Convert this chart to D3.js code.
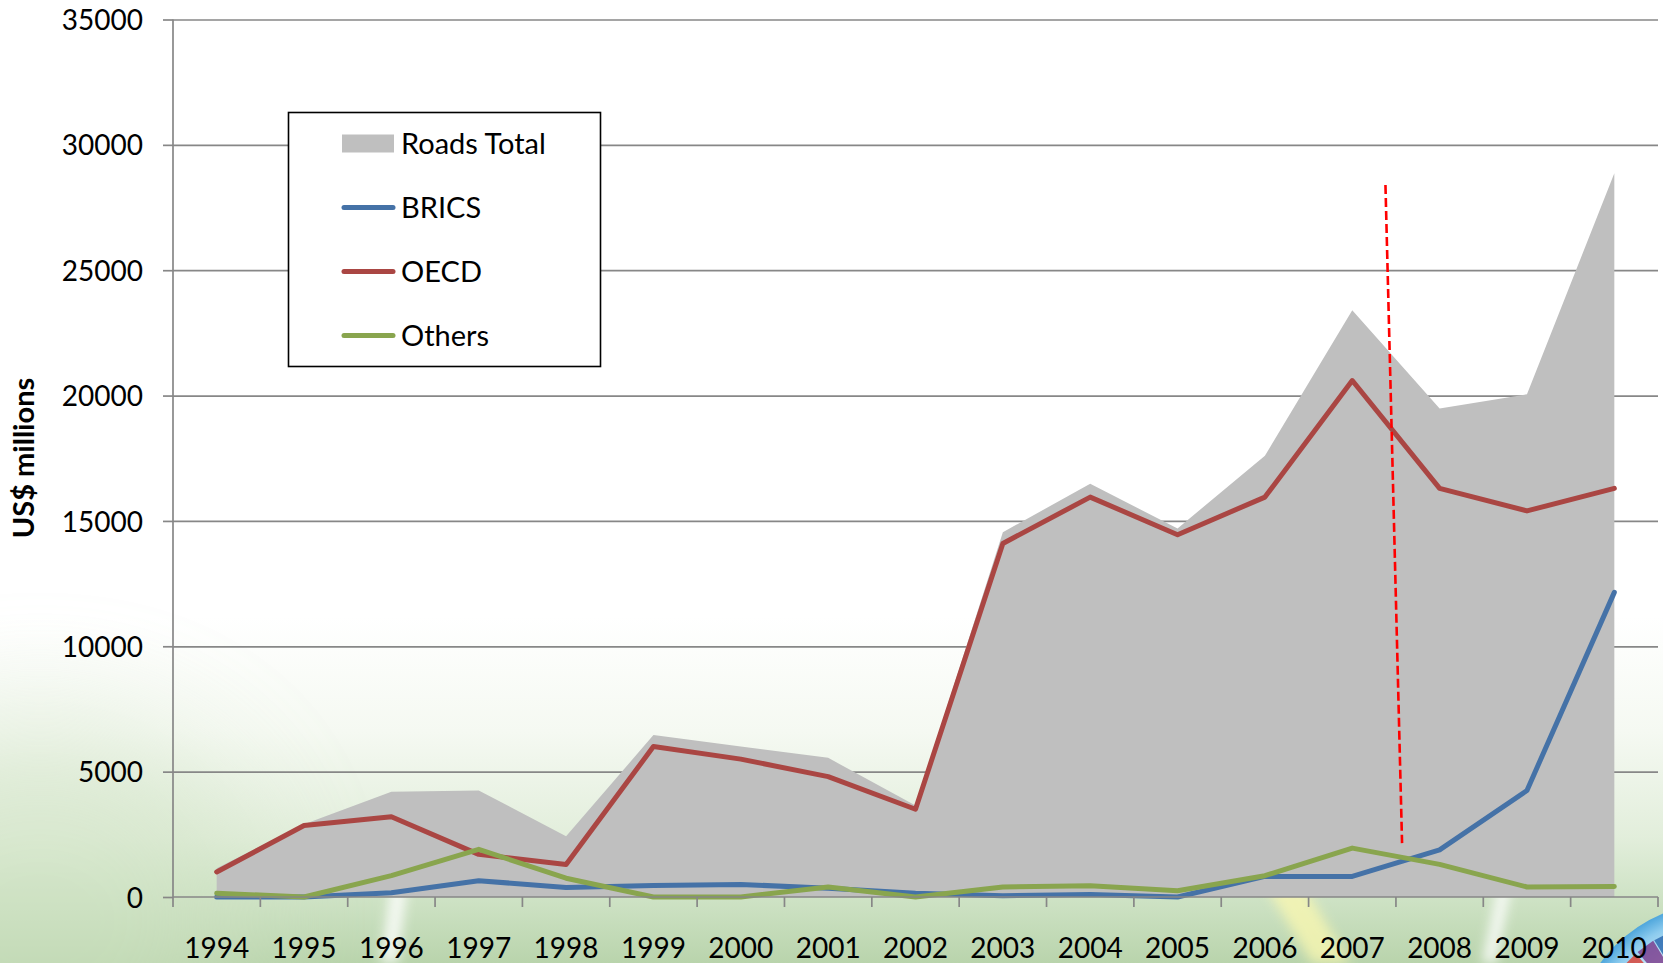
<!DOCTYPE html>
<html>
<head>
<meta charset="utf-8">
<script src="https://cdn.jsdelivr.net/npm/d3@7"></script>
<style>
  html, body { margin: 0; padding: 0; background: #ffffff; overflow: hidden; }
  svg { display: block; }
  text { font-family: Lato, "Open Sans", "Liberation Sans", sans-serif; fill: #000; }
</style>
</head>
<body>
<svg id="chart" width="1663" height="963"></svg>
<script>
// Road-sector investment commitments, US$ millions
const years = [1994, 1995, 1996, 1997, 1998, 1999, 2000, 2001, 2002,
               2003, 2004, 2005, 2006, 2007, 2008, 2009, 2010];
const roadsTotal = [1150, 2900, 4200, 4250, 2420, 6460, 6000, 5550, 3650,
                    14550, 16480, 14700, 17600, 23400, 19480, 20050, 28870];
const brics  = [0, 0, 170, 650, 380, 460, 500, 350, 150,
                50, 100, 0, 820, 820, 1880, 4250, 12150];
const oecd   = [1000, 2850, 3200, 1700, 1300, 6000, 5500, 4800, 3500,
                14100, 15950, 14450, 15950, 20600, 16300, 15400, 16300];
const others = [150, 0, 850, 1900, 750, 0, 0, 400, 0,
                400, 450, 250, 850, 1950, 1300, 400, 420];
const yTicks = [0, 5000, 10000, 15000, 20000, 25000, 30000, 35000];

// Hand-drawn marker between 2007 and 2008 (year fraction, value)
const crisisMarker = [{ year: 2007.38, value: 28400 }, { year: 2007.57, value: 2150 }];

const legendItems = [
  { label: "Roads Total", type: "area", color: "#bfbfbf" },
  { label: "BRICS",       type: "line", color: "#4572a7" },
  { label: "OECD",        type: "line", color: "#aa4643" },
  { label: "Others",      type: "line", color: "#89a54e" }
];

const W = 1663, H = 963;
const plot = { left: 173, right: 1658, top: 19.5, bottom: 897 };

const svg = d3.select("#chart");
const defs = svg.append("defs");

// ---- slide background -------------------------------------------------
const bg = defs.append("linearGradient").attr("id", "bgGrad")
  .attr("x1", 0).attr("y1", 0).attr("x2", 0).attr("y2", 1);
[[0, "#ffffff"], [0.64, "#ffffff"], [0.76, "#f5f9f2"], [0.87, "#e2eedb"], [0.93, "#cfe3c6"], [1, "#b9d4ac"]]
  .forEach(([o, c]) => bg.append("stop").attr("offset", o).attr("stop-color", c));

const haze = defs.append("filter").attr("id", "haze").attr("x", "-100%").attr("y", "-100%")
  .attr("width", "300%").attr("height", "300%");
haze.append("feGaussianBlur").attr("stdDeviation", 60);

const blur = defs.append("filter").attr("id", "soft").attr("x", "-50%").attr("y", "-50%")
  .attr("width", "200%").attr("height", "200%");
blur.append("feGaussianBlur").attr("stdDeviation", 6);

const globeGrad = defs.append("radialGradient").attr("id", "globeGrad")
  .attr("cx", "50%").attr("cy", "50%").attr("r", "50%");
[[0, "#ffffff"], [0.72, "#d4edf9"], [0.9, "#8ccbee"], [1, "#4ea6dc"]]
  .forEach(([o, c]) => globeGrad.append("stop").attr("offset", o).attr("stop-color", c));

const back = svg.append("g");
back.append("rect").attr("width", W).attr("height", H).attr("fill", "url(#bgGrad)");
back.append("ellipse").attr("cx", 40).attr("cy", 920).attr("rx", 220).attr("ry", 200)
  .attr("fill", "#cfe2c3").attr("opacity", 0.5).attr("filter", "url(#haze)");
// light streaks of the slide design
back.append("path").attr("d", "M1262,880 L1300,880 L1350,963 L1312,963 Z")
  .attr("fill", "#fbf8b0").attr("opacity", 0.75).attr("filter", "url(#soft)");
back.append("path").attr("d", "M395,860 L410,860 L398,963 L380,963 Z")
  .attr("fill", "#ffffff").attr("opacity", 0.8).attr("filter", "url(#soft)");
back.append("path").attr("d", "M1500,880 L1512,880 L1496,963 L1482,963 Z")
  .attr("fill", "#ffffff").attr("opacity", 0.85).attr("filter", "url(#soft)");
// globe emblem in the corner
const gc = { x: 1720, y: 1050, r: 148 };
const globe = back.append("g");
globe.append("circle").attr("cx", gc.x).attr("cy", gc.y).attr("r", gc.r)
  .attr("fill", "url(#globeGrad)");
[["#f2d43a", -2.62], ["#d9453a", -2.44], ["#7a3f8f", -2.27], ["#2e6bb0", -2.11]].forEach(([c, a]) => {
  const r0 = 70, r1 = 128;
  const a2 = a + 0.15;
  const p = [
    [gc.x + r0 * Math.cos(a), gc.y + r0 * Math.sin(a)],
    [gc.x + r1 * Math.cos(a), gc.y + r1 * Math.sin(a)],
    [gc.x + r1 * Math.cos(a2), gc.y + r1 * Math.sin(a2)],
    [gc.x + r0 * Math.cos(a2), gc.y + r0 * Math.sin(a2)]
  ];
  globe.append("path").attr("d", "M" + p.map(d => d.join(",")).join("L") + "Z")
    .attr("fill", c).attr("opacity", 0.85);
});

// ---- scales -----------------------------------------------------------
const x = d3.scaleBand().domain(years).range([plot.left, plot.right]).padding(0);
const cx = d => x(d) + x.bandwidth() / 2;
const xYear = d3.scaleLinear().domain([years[0], years[years.length - 1]])
  .range([cx(years[0]), cx(years[years.length - 1])]);
const y = d3.scaleLinear().domain([0, 35000]).range([plot.bottom, plot.top]);

const gridColor = "#878787";

// ---- gridlines --------------------------------------------------------
svg.append("g")
  .attr("transform", `translate(${plot.left},0)`)
  .call(d3.axisLeft(y).tickValues(yTicks.slice(1)).tickSize(-(plot.right - plot.left)).tickFormat(""))
  .call(g => g.select(".domain").remove())
  .call(g => g.selectAll(".tick line").attr("stroke", gridColor).attr("stroke-width", 1.7));

// ---- Roads Total area -------------------------------------------------
const totalData = years.map((yr, i) => ({ yr, v: roadsTotal[i] }));
svg.append("path")
  .datum(totalData)
  .attr("fill", "#bfbfbf")
  .attr("d", d3.area().x(d => cx(d.yr)).y0(y(0)).y1(d => y(d.v)));

// ---- series lines -----------------------------------------------------
const lineGen = d3.line().x(d => cx(d.yr)).y(d => y(d.v));
[[brics, "#4572a7"], [oecd, "#aa4643"], [others, "#89a54e"]].forEach(([vals, color]) => {
  svg.append("path")
    .datum(years.map((yr, i) => ({ yr, v: vals[i] })))
    .attr("fill", "none")
    .attr("stroke", color)
    .attr("stroke-width", 5)
    .attr("stroke-linejoin", "round")
    .attr("stroke-linecap", "round")
    .attr("d", lineGen);
});

// ---- axes -------------------------------------------------------------
const yAxis = svg.append("g")
  .attr("transform", `translate(${plot.left},0)`)
  .call(d3.axisLeft(y).tickValues(yTicks).tickSize(10).tickPadding(20).tickFormat(d3.format("d")));
yAxis.select(".domain").attr("stroke", gridColor).attr("stroke-width", 1.7)
  .attr("d", `M0,${plot.bottom}V${plot.top}`);
yAxis.selectAll(".tick line").attr("stroke", gridColor).attr("stroke-width", 1.7);
yAxis.selectAll(".tick text")
  .attr("font-size", 28).attr("font-family", "Lato, 'Open Sans', sans-serif")
  .attr("fill", "#000").attr("dy", "0.36em");

const xAxis = svg.append("g")
  .attr("transform", `translate(0,${plot.bottom})`)
  .call(d3.axisBottom(x).tickSize(0).tickPadding(0));
xAxis.select(".domain").attr("stroke", gridColor).attr("stroke-width", 1.7)
  .attr("d", `M${plot.left},0H${plot.right}`);
xAxis.selectAll(".tick text")
  .attr("font-size", 28).attr("font-family", "Lato, 'Open Sans', sans-serif")
  .attr("fill", "#000").attr("y", 61).attr("dy", 0);
// tick marks on category boundaries
const bounds = years.map(d => x(d)).concat([plot.right]);
xAxis.selectAll(".boundary").data(bounds).enter().append("line")
  .attr("class", "boundary")
  .attr("x1", d => d).attr("x2", d => d)
  .attr("y1", 0).attr("y2", 10)
  .attr("stroke", gridColor).attr("stroke-width", 1.7);

// ---- y axis title -----------------------------------------------------
svg.append("text")
  .attr("transform", `translate(34,458) rotate(-90)`)
  .attr("text-anchor", "middle")
  .attr("font-size", 29)
  .attr("font-weight", "bold")
  .text("US$ millions");

// ---- crisis marker ----------------------------------------------------
svg.append("line")
  .attr("x1", xYear(crisisMarker[0].year)).attr("y1", y(crisisMarker[0].value))
  .attr("x2", xYear(crisisMarker[1].year)).attr("y2", y(crisisMarker[1].value))
  .attr("stroke", "#ff0000").attr("stroke-width", 2.6)
  .attr("stroke-dasharray", "9,4");

// ---- legend -----------------------------------------------------------
const legend = svg.append("g");
legend.append("rect")
  .attr("x", 288.5).attr("y", 112.5).attr("width", 312).attr("height", 254)
  .attr("fill", "#ffffff").attr("stroke", "#000").attr("stroke-width", 1.6);
const item = legend.selectAll(".item").data(legendItems).enter().append("g")
  .attr("class", "item")
  .attr("transform", (d, i) => `translate(0,${143.5 + i * 64})`);
item.filter(d => d.type === "area").append("rect")
  .attr("x", 342).attr("y", -9).attr("width", 52).attr("height", 18).attr("fill", d => d.color);
item.filter(d => d.type === "line").append("line")
  .attr("x1", 344).attr("x2", 393).attr("y1", 0).attr("y2", 0)
  .attr("stroke", d => d.color).attr("stroke-width", 5).attr("stroke-linecap", "round");
item.append("text")
  .attr("x", 401).attr("y", 10)
  .attr("font-size", 29)
  .text(d => d.label);
</script>
</body>
</html>
